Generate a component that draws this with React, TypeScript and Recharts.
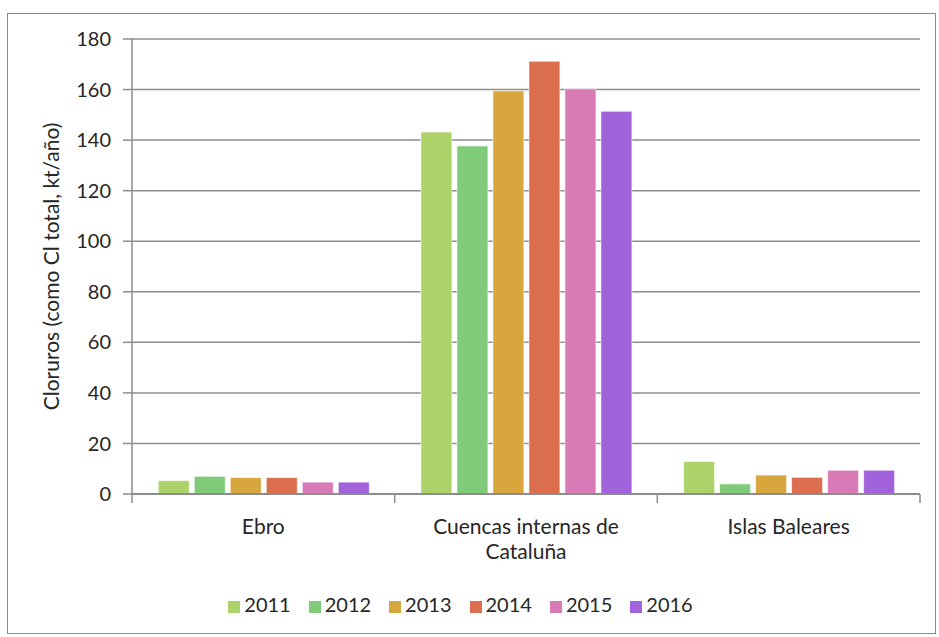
import { BarChart, Bar, XAxis, YAxis, CartesianGrid, Legend } from "recharts";

const regions = ["Ebro", "Cuencas internas de Cataluña", "Islas Baleares"];
const years = ["2011", "2012", "2013", "2014", "2015", "2016"];
const colors = ["#AED26A", "#7FCB7A", "#D7A73D", "#DA6E4E", "#D77AB5", "#A262DB"];
const v2011 = [5.3, 143.2, 12.9];
const v2012 = [7.0, 137.7, 4.0];
const v2013 = [6.5, 159.5, 7.5];
const v2014 = [6.5, 171.2, 6.6];
const v2015 = [4.7, 160.3, 9.4];
const v2016 = [4.7, 151.4, 9.4];
const yTicks = [0, 20, 40, 60, 80, 100, 120, 140, 160, 180];

const series = [v2011, v2012, v2013, v2014, v2015, v2016];
const data = regions.map((name, i) => {
  const row: Record<string, string | number> = { name };
  years.forEach((y, k) => (row[y] = series[k][i]));
  return row;
});

const FONT = "Lato, 'Liberation Sans', sans-serif";
const W = 939;
const H = 637;
const M = { top: 39, right: 19, left: 72, bottom: 21 };
const YW = 60;
const BAND = (W - M.left - YW - M.right) / regions.length;

const lineBreaks: Record<string, string[]> = {
  "Cuencas internas de Cataluña": ["Cuencas internas de", "Cataluña"],
};

const XTick = (props: any) => {
  const { x, y, payload, index } = props;
  const lines = lineBreaks[payload.value] || [payload.value];
  return (
    <g>
      <line x1={x - BAND / 2} x2={x - BAND / 2} y1={y - 8} y2={y + 1} stroke="#8c8c8c" strokeWidth={1.5} />
      {index === regions.length - 1 && (
        <line x1={x + BAND / 2} x2={x + BAND / 2} y1={y - 8} y2={y + 1} stroke="#8c8c8c" strokeWidth={1.5} />
      )}
      {lines.map((t: string, i: number) => (
        <text key={i} x={x} y={y + 32 + i * 25} textAnchor="middle" fontSize={21} fill="#262626" fontFamily={FONT}>
          {t}
        </text>
      ))}
    </g>
  );
};

export default function App() {
  return (
    <div style={{ position: "absolute", left: 0, top: 0, width: W, height: H, background: "#fff" }}>
      <div
        style={{
          position: "absolute",
          left: 7,
          top: 13,
          width: 929,
          height: 621,
          border: "1.5px solid #8a8a8a",
          boxSizing: "border-box",
        }}
      />
      <BarChart width={W} height={H} data={data} margin={M} barCategoryGap="10%" barGap={5}>
        <CartesianGrid vertical={false} stroke="#8e8e8e" strokeWidth={1.5} />
        <XAxis
          dataKey="name"
          height={98}
          axisLine={{ stroke: "#8c8c8c", strokeWidth: 2 }}
          tickLine={false}
          tick={<XTick />}
          interval={0}
        />
        <YAxis
          width={YW}
          domain={[0, 180]}
          ticks={yTicks}
          tick={{ fontSize: 20, fill: "#262626", fontFamily: FONT }}
          axisLine={{ stroke: "#8c8c8c", strokeWidth: 1.5 }}
          tickLine={{ stroke: "#8c8c8c", strokeWidth: 1.5 }}
          tickSize={9}
          tickMargin={12}
          label={{
            value: "Cloruros (como Cl total, kt/año)",
            angle: -90,
            position: "insideLeft",
            offset: -20,
            style: { textAnchor: "middle", fontSize: 21, fill: "#262626", fontFamily: FONT },
          }}
        />
        <Legend
          verticalAlign="bottom"
          iconType="square"
          iconSize={12}
          wrapperStyle={{ fontSize: 20, fontFamily: FONT, color: "#262626", left: 0, width: W }}
          formatter={(v: string) => <span style={{ color: "#262626", marginRight: 8 }}>{v}</span>}
        />
        {years.map((y, k) => (
          <Bar key={y} dataKey={y} fill={colors[k]} stroke="#ffffff" strokeOpacity={0.6} isAnimationActive={false} />
        ))}
      </BarChart>
    </div>
  );
}
